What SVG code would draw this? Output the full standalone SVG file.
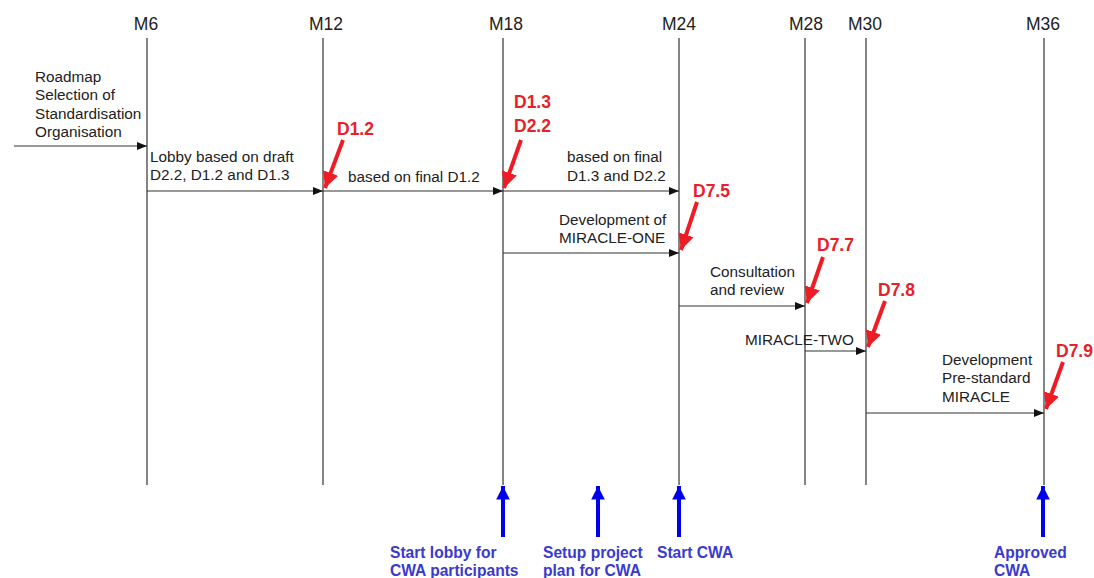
<svg xmlns="http://www.w3.org/2000/svg" width="1094" height="578" viewBox="0 0 1094 578">
<defs>
<style>
.ms{font-family:"Liberation Sans",Arial,sans-serif;font-size:17.5px;fill:#222;text-anchor:middle}
.t{font-family:"Liberation Sans",Arial,sans-serif;font-size:15.3px;fill:#222}
.d{font-family:"Liberation Sans",Arial,sans-serif;font-size:17.5px;font-weight:bold;fill:#e8202a}
.b{font-family:"Liberation Sans",Arial,sans-serif;font-size:15.6px;font-weight:bold;fill:#3a3acc}
.v{stroke:#333;stroke-width:1.2}
.h{stroke:#333;stroke-width:1.2;marker-end:url(#ah)}
.r{stroke:#ee1c25;stroke-width:4;fill:none;marker-end:url(#rh)}
.bl{stroke:#0000ee;stroke-width:4;marker-end:url(#bh)}
</style>
<marker id="ah" viewBox="0 0 10 10" refX="10" refY="5" markerWidth="10" markerHeight="10" markerUnits="userSpaceOnUse" orient="auto"><path d="M0,1 L10,5 L0,9 z" fill="#111"/></marker>
<marker id="rh" viewBox="0 0 10 10" refX="10" refY="5" markerWidth="4" markerHeight="4" orient="auto"><path d="M0,0 L10,5 L0,10 z" fill="#ee1c25"/></marker>
<marker id="bh" viewBox="0 0 10 10" refX="10" refY="5" markerWidth="3.4" markerHeight="3.4" orient="auto"><path d="M0,0 L10,5 L0,10 z" fill="#0000ee"/></marker>
</defs>
<rect width="1094" height="578" fill="#fff"/>
<g id="milestones">
<g id="m6"><text class="ms" x="146" y="30">M6</text><line class="v" x1="147" y1="38" x2="147" y2="485"/></g>
<g id="m12"><text class="ms" x="326" y="30">M12</text><line class="v" x1="323" y1="38" x2="323" y2="485"/></g>
<g id="m18"><text class="ms" x="506" y="30">M18</text><line class="v" x1="503" y1="38" x2="503" y2="485"/></g>
<g id="m24"><text class="ms" x="679" y="30">M24</text><line class="v" x1="679" y1="38" x2="679" y2="485"/></g>
<g id="m28"><text class="ms" x="806" y="30">M28</text><line class="v" x1="805" y1="38" x2="805" y2="485"/></g>
<g id="m30"><text class="ms" x="865" y="30">M30</text><line class="v" x1="866" y1="38" x2="866" y2="485"/></g>
<g id="m36"><text class="ms" x="1043" y="30">M36</text><line class="v" x1="1044" y1="38" x2="1044" y2="485"/></g>
</g>
<g id="connectors">
<line class="h" x1="14" y1="146" x2="147" y2="146"/>
<line class="h" x1="147" y1="191" x2="323" y2="191"/>
<line class="h" x1="323" y1="191" x2="503" y2="191"/>
<line class="h" x1="503" y1="191" x2="679" y2="191"/>
<line class="h" x1="503" y1="253" x2="679" y2="253"/>
<line class="h" x1="679" y1="306" x2="805" y2="306"/>
<line class="h" x1="805" y1="351" x2="866" y2="351"/>
<line class="h" x1="866" y1="413" x2="1044" y2="413"/>
<path class="r" d="M343,140 L325,188"/>
<path class="r" d="M521,140 L504,188"/>
<path class="r" d="M697,202 L681,250"/>
<path class="r" d="M823,257 L807,303"/>
<path class="r" d="M885,301 L868,347"/>
<path class="r" d="M1063,362 L1046,409"/>
<line class="bl" x1="503" y1="537" x2="503" y2="486"/>
<line class="bl" x1="598" y1="537" x2="598" y2="486"/>
<line class="bl" x1="679" y1="537" x2="679" y2="486"/>
<line class="bl" x1="1043" y1="537" x2="1043" y2="486"/>
</g>
<g id="labels">
<text class="t" x="35" y="82">Roadmap</text>
<text class="t" x="35" y="100">Selection of</text>
<text class="t" x="35" y="119">Standardisation</text>
<text class="t" x="35" y="137">Organisation</text>
<text class="t" x="150" y="162">Lobby based on draft</text>
<text class="t" x="150" y="180">D2.2, D1.2 and D1.3</text>
<text class="t" x="348" y="182">based on final D1.2</text>
<text class="t" x="567" y="162">based on final</text>
<text class="t" x="567" y="181">D1.3 and D2.2</text>
<text class="t" x="559" y="225">Development of</text>
<text class="t" x="559" y="243">MIRACLE-ONE</text>
<text class="t" x="710" y="277">Consultation</text>
<text class="t" x="710" y="295">and review</text>
<text class="t" x="745" y="345">MIRACLE-TWO</text>
<text class="t" x="942" y="365">Development</text>
<text class="t" x="942" y="383">Pre-standard</text>
<text class="t" x="942" y="402">MIRACLE</text>
</g>
<g id="deliverables">
<text class="d" x="337" y="135">D1.2</text>
<text class="d" x="514" y="108">D1.3</text>
<text class="d" x="514" y="132">D2.2</text>
<text class="d" x="693" y="197">D7.5</text>
<text class="d" x="817" y="251">D7.7</text>
<text class="d" x="878" y="296">D7.8</text>
<text class="d" x="1056" y="357">D7.9</text>
</g>
<g id="events">
<text class="b" x="390" y="558">Start lobby for</text>
<text class="b" x="390" y="576">CWA participants</text>
<text class="b" x="543" y="558">Setup project</text>
<text class="b" x="543" y="576">plan for CWA</text>
<text class="b" x="657" y="558">Start CWA</text>
<text class="b" x="994" y="558">Approved</text>
<text class="b" x="994" y="576">CWA</text>
</g>
</svg>
